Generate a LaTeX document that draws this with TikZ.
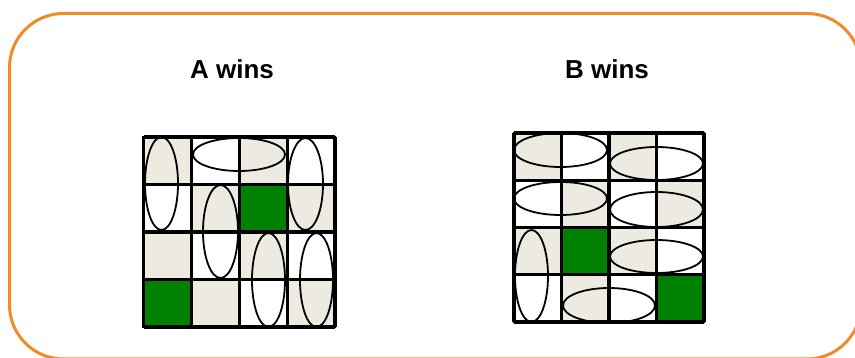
\documentclass[tikz,border=0pt]{standalone}
\usepackage{fontspec}
\setmainfont{Liberation Sans}
\definecolor{frameorange}{RGB}{241,139,40}
\definecolor{beige}{RGB}{237,235,225}
\definecolor{wingreen}{RGB}{0,128,0}
\tikzset{
  gridline/.style={line width=3.2pt, black},
  domino/.style={line width=1.8pt, black},
  title/.style={font=\fontsize{26}{30}\selectfont\bfseries, anchor=base, inner sep=0pt},
}
\begin{document}
\begin{tikzpicture}[x=1pt,y=-1pt]
\useasboundingbox (0,0) rectangle (855,358);
% frame
\draw[frameorange, line width=3pt, rounded corners=54pt] (9.5,13.5) rectangle (861,359);
% titles
\node[title] (ta) at (232,79) {A wins};
\node[title] (tb) at (607,79) {B wins};

% ---------- Grid A ----------
\def\ax{143.5}\def\ay{137}\def\aw{47.875}\def\ah{47.5}
\foreach \r in {0,...,3}{
  \foreach \c in {0,...,3}{
    \pgfmathtruncatemacro{\pty}{mod(\r+\c,2)}
    \ifnum\pty=0
      \fill[beige] (\ax+\c*\aw,\ay+\r*\ah) rectangle ++(\aw,\ah);
    \fi
  }
}
\fill[wingreen] (\ax+2*\aw,\ay+1*\ah) rectangle ++(\aw,\ah);
\fill[wingreen] (\ax+0*\aw,\ay+3*\ah) rectangle ++(\aw,\ah);
\draw[domino] (161.5,183.5) ellipse (16.5 and 46.5);
\draw[domino] (239,154.5) ellipse (46 and 16.5);
\draw[domino] (305.5,184) ellipse (17.5 and 46);
\draw[domino] (220.5,231.5) ellipse (17.5 and 46.5);
\draw[domino] (268.5,280) ellipse (16.5 and 47);
\draw[domino] (316.5,280) ellipse (16.5 and 47);
\foreach \i in {0,...,4}{
  \draw[gridline] (\ax+\i*\aw,\ay) -- (\ax+\i*\aw,\ay+4*\ah);
  \draw[gridline] (\ax,\ay+\i*\ah) -- (\ax+4*\aw,\ay+\i*\ah);
}
\draw[line width=2.8pt, line join=miter] (\ax,\ay) rectangle (\ax+4*\aw,\ay+4*\ah);

% ---------- Grid B ----------
\def\bx{514}\def\by{133}\def\bw{47.5}\def\bh{47.25}
\foreach \r in {0,...,3}{
  \foreach \c in {0,...,3}{
    \pgfmathtruncatemacro{\pty}{mod(\r+\c,2)}
    \ifnum\pty=0
      \fill[beige] (\bx+\c*\bw,\by+\r*\bh) rectangle ++(\bw,\bh);
    \fi
  }
}
\fill[wingreen] (\bx+1*\bw,\by+2*\bh) rectangle ++(\bw,\bh);
\fill[wingreen] (\bx+3*\bw,\by+3*\bh) rectangle ++(\bw,\bh);
\draw[domino] (560.5,150) ellipse (46.5 and 17);
\draw[domino] (656.5,163.5) ellipse (46.5 and 16.5);
\draw[domino] (560.5,198.5) ellipse (46.5 and 16.5);
\draw[domino] (656.5,209.5) ellipse (46.5 and 17.5);
\draw[domino] (656.5,256.5) ellipse (46.5 and 16.5);
\draw[domino] (531.5,276) ellipse (16.5 and 46);
\draw[domino] (609,305.5) ellipse (46 and 17.5);
\foreach \i in {0,...,4}{
  \draw[gridline] (\bx+\i*\bw,\by) -- (\bx+\i*\bw,\by+4*\bh);
  \draw[gridline] (\bx,\by+\i*\bh) -- (\bx+4*\bw,\by+\i*\bh);
}
\draw[line width=2.8pt, line join=miter] (\bx,\by) rectangle (\bx+4*\bw,\by+4*\bh);
\end{tikzpicture}
\end{document}
